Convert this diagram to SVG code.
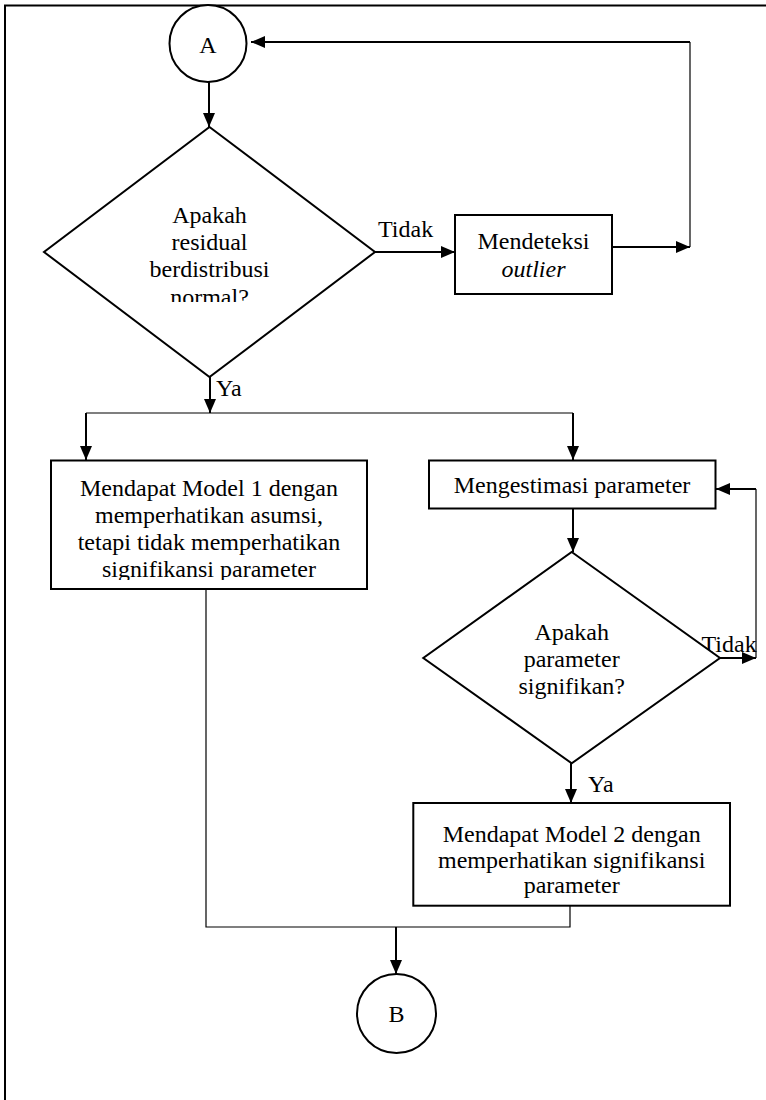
<svg xmlns="http://www.w3.org/2000/svg" width="766" height="1100" viewBox="0 0 766 1100">
<style>
.s{fill:#fff;stroke:#000;stroke-width:2}
.t{font-family:"Liberation Serif","Times New Roman",serif;font-size:24px;fill:#000}
.c{text-anchor:middle}
.a{fill:none;stroke:#000;stroke-width:2;marker-end:url(#ah)}
.n{fill:none;stroke:#000;stroke-width:1.2}
.w{fill:none;stroke:#000;stroke-width:2}
</style>
<defs>
<marker id="ah" viewBox="0 0 14 12" refX="14" refY="6" markerWidth="14" markerHeight="12" markerUnits="userSpaceOnUse" orient="auto">
<path d="M0,0 L14,6 L0,12 Z" fill="#000"/>
</marker>
<clipPath id="cl1"><rect x="0" y="0" width="766" height="302"/></clipPath>
<clipPath id="cl2"><rect x="0" y="0" width="766" height="580"/></clipPath>
</defs>
<rect width="766" height="1100" fill="#fff"/>
<path class="w" d="M5,1100 V5.5 H766"/>

<g id="connectors">
<line class="a" x1="209" y1="82" x2="209" y2="127"/>
<line class="a" x1="375" y1="252" x2="455" y2="252"/>
<line class="a" x1="612" y1="247" x2="690" y2="247"/>
<line class="n" x1="690" y1="247" x2="690" y2="42"/>
<line class="a" x1="690" y1="42" x2="251" y2="42"/>
<line class="a" x1="210" y1="377" x2="210" y2="413"/>
<line class="n" x1="86" y1="413" x2="573" y2="413"/>
<line class="a" x1="86" y1="413" x2="86" y2="460"/>
<line class="a" x1="573" y1="413" x2="573" y2="460"/>
<line class="a" x1="573" y1="509" x2="573" y2="552"/>
<line class="a" x1="720" y1="658" x2="756" y2="658"/>
<line class="n" x1="756" y1="658" x2="756" y2="489"/>
<line class="a" x1="756" y1="489" x2="716" y2="489"/>
<line class="a" x1="571" y1="763" x2="571" y2="803"/>
<path class="n" d="M206,589 V927 H570 V906"/>
<line class="a" x1="396" y1="927" x2="396" y2="974"/>
<text class="t" x="378" y="236.5">Tidak</text>
<text class="t" x="216" y="396">Ya</text>
<text class="t" x="701.5" y="651.5">Tidak</text>
<text class="t" x="588" y="792">Ya</text>
</g>

<g id="nodeA">
<circle class="s" cx="208" cy="43.5" r="38.5"/>
<text class="t c" x="208" y="53">A</text>
</g>

<g id="decision1">
<polygon class="s" points="209.5,127 375,252 209.5,377 44,252"/>
<g class="t c">
<text x="209.5" y="222.7">Apakah</text>
<text x="209.5" y="250">residual</text>
<text x="209.5" y="277">berdistribusi</text>
<text x="209.5" y="304.5" clip-path="url(#cl1)">normal?</text>
</g>
</g>

<g id="outlier">
<rect class="s" x="455" y="215" width="157" height="79"/>
<text class="t c" x="533.5" y="248.5">Mendeteksi</text>
<text class="t c" x="533.5" y="276.5" font-style="italic">outlier</text>
</g>

<g id="model1">
<rect class="s" x="51" y="460.5" width="316" height="128.5"/>
<g class="t c">
<text x="209" y="495.5">Mendapat Model 1 dengan</text>
<text x="209" y="522.5">memperhatikan asumsi,</text>
<text x="209" y="549.5">tetapi tidak memperhatikan</text>
<text x="209" y="576.5" clip-path="url(#cl2)">signifikansi parameter</text>
</g>
</g>

<g id="estimasi">
<rect class="s" x="429" y="460.5" width="286.5" height="48"/>
<text class="t c" x="572" y="493">Mengestimasi parameter</text>
</g>

<g id="decision2">
<polygon class="s" points="571.7,552 720,658 571.7,763.3 423.3,658"/>
<g class="t c">
<text x="571.7" y="639.5">Apakah</text>
<text x="571.7" y="667">parameter</text>
<text x="571.7" y="694">signifikan?</text>
</g>
</g>

<g id="model2">
<rect class="s" x="413.3" y="803" width="316.7" height="102.7"/>
<g class="t c">
<text x="571.7" y="842">Mendapat Model 2 dengan</text>
<text x="571.7" y="868">memperhatikan signifikansi</text>
<text x="571.7" y="893">parameter</text>
</g>
</g>

<g id="nodeB">
<circle class="s" cx="396.5" cy="1013.5" r="39.5"/>
<text class="t c" x="396.5" y="1022">B</text>
</g>
</svg>
